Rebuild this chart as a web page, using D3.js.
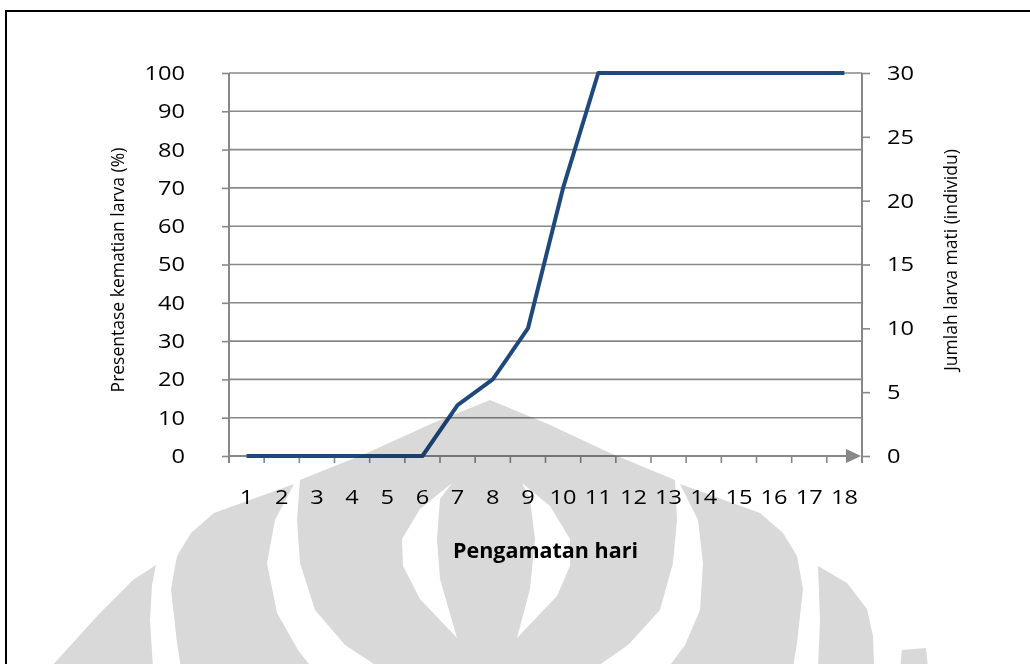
<!DOCTYPE html>
<html>
<head>
<meta charset="utf-8">
<script src="https://cdn.jsdelivr.net/npm/d3@7"></script>
<style>
  html, body { margin: 0; padding: 0; background: #fff; }
  svg { display: block; }
  text { font-family: "Open Sans", "Noto Sans", sans-serif; fill: #000; }
</style>
</head>
<body>
<svg id="chart" width="1030" height="664"></svg>
<script>
// Observation days (category axis)
const days = [1, 2, 3, 4, 5, 6, 7, 8, 9, 10, 11, 12, 13, 14, 15, 16, 17, 18];
// Larval mortality in percent, per observation day
const mortalityPct = [0, 0, 0, 0, 0, 0, 13.3, 20, 33.3, 70, 100, 100, 100, 100, 100, 100, 100, 100];
// Left axis ticks (percent) and right axis ticks (dead larvae, individuals)
const pctTicks = [0, 10, 20, 30, 40, 50, 60, 70, 80, 90, 100];
const countTicks = [0, 5, 10, 15, 20, 25, 30];

const svg = d3.select("#chart");
const W = 1030, H = 664;
const plot = { left: 229, right: 862, top: 73, bottom: 456 };
const gridColor = "#888888";
const labelStretch = 1.18;

// widen tick labels horizontally while keeping their anchor point
function stretch(sel, s) {
  sel.each(function () {
    const t = d3.select(this);
    const x0 = +t.attr("x") || 0;
    t.attr("x", x0 / s).attr("transform", `scale(${s},1)`);
  });
}

// page frame
svg.append("rect")
  .attr("x", 6).attr("y", 11)
  .attr("width", W + 20).attr("height", H + 20)
  .attr("fill", "none").attr("stroke", "#000").attr("stroke-width", 2);

const x = d3.scaleBand().domain(days).range([plot.left, plot.right]).padding(0);
const yL = d3.scaleLinear().domain([0, 100]).range([plot.bottom, plot.top]);
const yR = d3.scaleLinear().domain([0, 30]).range([plot.bottom, plot.top]);

// horizontal gridlines
svg.append("g")
  .selectAll("line")
  .data(pctTicks.filter(d => d > 0))
  .join("line")
  .attr("x1", plot.left).attr("x2", plot.right)
  .attr("y1", d => yL(d)).attr("y2", d => yL(d))
  .attr("stroke", gridColor).attr("stroke-width", 1.6);

// left axis
const gL = svg.append("g")
  .attr("transform", `translate(${plot.left},0)`)
  .call(d3.axisLeft(yL).tickValues(pctTicks).tickSize(7).tickPadding(37).tickSizeOuter(0));
gL.select(".domain").remove();
gL.selectAll(".tick line").attr("stroke", gridColor).attr("stroke-width", 1.6);
gL.selectAll(".tick text").attr("font-size", 20).attr("font-family", "Open Sans").attr("fill", "#000")
  .call(stretch, labelStretch);
svg.append("line")
  .attr("x1", plot.left).attr("x2", plot.left)
  .attr("y1", plot.top).attr("y2", plot.bottom + 7)
  .attr("stroke", gridColor).attr("stroke-width", 2);

// right axis
const gR = svg.append("g")
  .attr("transform", `translate(${plot.right},0)`)
  .call(d3.axisRight(yR).tickValues(countTicks).tickSize(8).tickPadding(17).tickSizeOuter(0));
gR.select(".domain").remove();
gR.selectAll(".tick line").attr("stroke", gridColor).attr("stroke-width", 1.6);
gR.selectAll(".tick text").attr("font-size", 20).attr("font-family", "Open Sans").attr("fill", "#000")
  .call(stretch, labelStretch);
svg.append("line")
  .attr("x1", plot.right).attr("x2", plot.right)
  .attr("y1", plot.top).attr("y2", plot.bottom + 7)
  .attr("stroke", gridColor).attr("stroke-width", 2);

// bottom category axis: tick marks sit on category boundaries
const bw = x.bandwidth();
svg.append("g")
  .selectAll("line")
  .data(days)
  .join("line")
  .attr("x1", d => x(d)).attr("x2", d => x(d))
  .attr("y1", plot.bottom).attr("y2", plot.bottom + 7)
  .attr("stroke", gridColor).attr("stroke-width", 1.6);
svg.append("line")
  .attr("x1", plot.left).attr("x2", plot.right - 12)
  .attr("y1", plot.bottom).attr("y2", plot.bottom)
  .attr("stroke", gridColor).attr("stroke-width", 2);
svg.append("path")
  .attr("d", `M${plot.right - 16},${plot.bottom - 7} L${plot.right - 1},${plot.bottom} L${plot.right - 16},${plot.bottom + 7} Z`)
  .attr("fill", gridColor);

const gX = svg.append("g")
  .attr("transform", `translate(0,${plot.bottom})`)
  .call(d3.axisBottom(x).tickSize(0).tickPadding(34));
gX.select(".domain").remove();
gX.selectAll(".tick text").attr("font-size", 20).attr("font-family", "Open Sans").attr("fill", "#000")
  .call(stretch, labelStretch);

// mortality line
const line = d3.line()
  .x((d, i) => x(days[i]) + bw / 2)
  .y(d => yL(d));
svg.append("path")
  .datum(mortalityPct)
  .attr("d", line)
  .attr("fill", "none")
  .attr("stroke", "#1f497d")
  .attr("stroke-width", 4)
  .attr("stroke-linejoin", "round");

// axis titles
svg.append("text")
  .attr("transform", `translate(117,270) rotate(-90)`)
  .attr("text-anchor", "middle").attr("dominant-baseline", "central")
  .attr("font-size", 17.5)
  .text("Presentase kematian larva (%)");
svg.append("text")
  .attr("transform", `translate(950,260) rotate(-90)`)
  .attr("text-anchor", "middle").attr("dominant-baseline", "central")
  .attr("font-size", 17.5)
  .text("Jumlah larva mati (individu)");
svg.append("text")
  .attr("x", (plot.left + plot.right) / 2).attr("y", 558)
  .attr("text-anchor", "middle")
  .attr("font-size", 21.5).attr("font-weight", "bold")
  .text("Pengamatan hari");

// faint emblem printed across the lower half of the page
const emblemGray = [
  // central dome
  [[300,480],[367,453],[433,423],[490,400],[548,424],[610,453],[675,480],[677,520],[673,563],[660,610],[628,645],[595,668],
   [380,668],[345,645],[315,610],[300,563],[297,520]],
  // left inner crescent
  [[294,484],[214,513],[191,533],[177,556],[171,589],[177,643],[181,668],[312,668],[298,650],[277,613],[267,563],[275,520]],
  // right inner crescent
  [[680,484],[760,513],[783,533],[797,556],[803,589],[797,643],[793,668],[668,668],[685,645],[700,610],[703,563],[698,520]],
  // left outer sliver
  [[156,565],[133,580],[100,613],[50,668],[153,668],[150,620],[152,585]],
  // right outer sliver
  [[818,566],[847,583],[867,609],[873,636],[874,668],[818,668],[820,620]],
  [[902,650],[926,648],[928,668],[900,668]]
];
const emblemWhite = [
  [[452,483],[420,509],[402,539],[403,566],[420,599],[457,638],[440,579],[437,539],[440,499]],
  [[522,483],[550,506],[570,539],[570,566],[557,596],[517,638],[530,589],[535,539],[530,499]]
];
const emblem = svg.append("g").style("mix-blend-mode", "multiply");
const closed = d3.line().curve(d3.curveLinearClosed);
emblem.selectAll("path.g")
  .data(emblemGray)
  .join("path")
  .attr("class", "g")
  .attr("d", closed)
  .attr("fill", "#d9d9d9");
emblem.selectAll("path.w")
  .data(emblemWhite)
  .join("path")
  .attr("class", "w")
  .attr("d", closed)
  .attr("fill", "#fff");
</script>
</body>
</html>
